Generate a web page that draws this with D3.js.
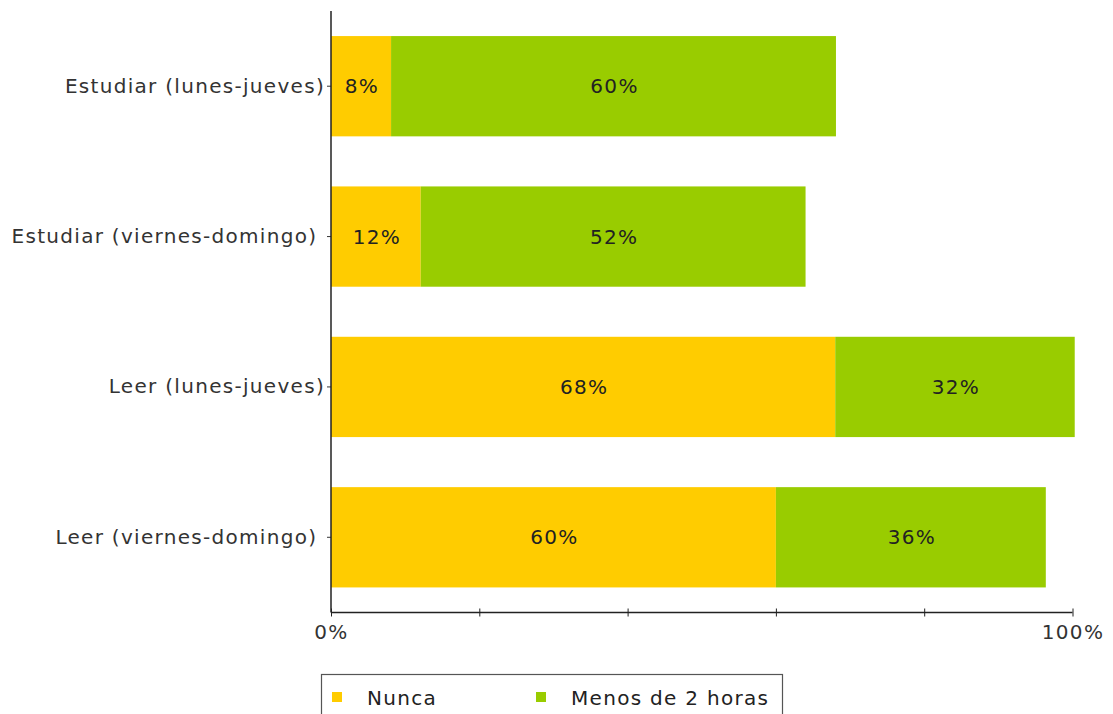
<!DOCTYPE html>
<html>
<head>
<meta charset="utf-8">
<script src="https://cdn.jsdelivr.net/npm/d3@7"></script>
<style>
  html, body { margin: 0; padding: 0; background: #fff; }
  svg { display: block; }
  text { font-family: "DejaVu Sans", Verdana, sans-serif; white-space: pre; }
</style>
</head>
<body>
<svg id="chart" width="1113" height="714"></svg>
<script>
// ---- data ----
const categories = [
  "Estudiar (lunes-jueves)",
  "Estudiar (viernes-domingo) ",
  "Leer (lunes-jueves)",
  "Leer (viernes-domingo) "
];
const seriesNames = ["Nunca", "Menos de 2 horas"];
const nunca = [8.1, 12.1, 68, 60];
const menos2 = [60, 51.9, 32.3, 36.4];
const xTickValues = [0, 20, 40, 60, 80, 100];
const xTickLabels = { 0: "0%", 100: "100%" };
const colors = ["#FFCC00", "#99CC00"];

// ---- layout ----
const svg = d3.select("#chart");
const plotL = 331, plotR = 1072.5, plotT = 11, plotB = 612.5;
const FS = 20, LS = 1.3;

const x = d3.scaleLinear().domain([0, 100]).range([plotL, plotR]);
const y = d3.scaleBand().domain(categories).range([plotT, plotB])
  .paddingInner(0.333).paddingOuter(0.1667);

const rows = categories.map((c, i) => ({ cat: c, vals: [nunca[i], menos2[i]] }));

// bars
rows.forEach(r => {
  let acc = 0;
  r.vals.forEach((v, k) => {
    const x0 = x(acc), x1 = x(acc + v);
    svg.append("rect")
      .attr("x", x0).attr("y", y(r.cat))
      .attr("width", x1 - x0).attr("height", y.bandwidth())
      .attr("fill", colors[k]);
    svg.append("text")
      .attr("x", (x0 + x1) / 2 + 1)
      .attr("y", y(r.cat) + y.bandwidth() / 2)
      .attr("dy", "0.36em")
      .attr("text-anchor", "middle")
      .attr("font-size", FS).attr("letter-spacing", LS)
      .attr("fill", "#222")
      .text(Math.round(v) + "%");
    acc += v;
  });
});

// y axis
const yAxis = d3.axisLeft(y).tickSize(4).tickPadding(2);
const gy = svg.append("g").attr("transform", `translate(${plotL},0)`).call(yAxis);
gy.select(".domain").remove();
gy.selectAll(".tick line").attr("stroke", "#333");
gy.selectAll(".tick text").attr("font-size", FS).attr("letter-spacing", LS)
  .attr("fill", "#333").attr("font-family", "DejaVu Sans, Verdana, sans-serif");
svg.append("line").attr("x1", plotL).attr("x2", plotL).attr("y1", plotT).attr("y2", plotB)
  .attr("stroke", "#222").attr("stroke-width", 1.5);

// x axis
const xAxis = d3.axisBottom(x).tickValues(xTickValues)
  .tickSize(4).tickPadding(8)
  .tickFormat(d => xTickLabels[d] || "");
const gx = svg.append("g").attr("transform", `translate(0,${plotB})`).call(xAxis);
gx.select(".domain").attr("d", `M${plotL},0H${plotR}`).attr("stroke", "#222").attr("stroke-width", 1.5);
gx.selectAll(".tick line").attr("y1", -4).attr("y2", 4).attr("stroke", "#222");
gx.selectAll(".tick text").attr("font-size", FS).attr("letter-spacing", LS)
  .attr("fill", "#333").attr("font-family", "DejaVu Sans, Verdana, sans-serif");

// legend
const lg = svg.append("g");
lg.append("rect").attr("x", 321.5).attr("y", 674.5).attr("width", 461).attr("height", 60)
  .attr("fill", "#fff").attr("stroke", "#555").attr("stroke-width", 1.2);
const legX = [332, 536];
seriesNames.forEach((n, k) => {
  lg.append("rect").attr("x", legX[k]).attr("y", 692).attr("width", 10).attr("height", 10)
    .attr("fill", colors[k]);
  lg.append("text").attr("x", legX[k] + 35).attr("y", 705)
    .attr("font-size", FS).attr("letter-spacing", LS).attr("fill", "#222").text(n);
});
</script>
</body>
</html>
